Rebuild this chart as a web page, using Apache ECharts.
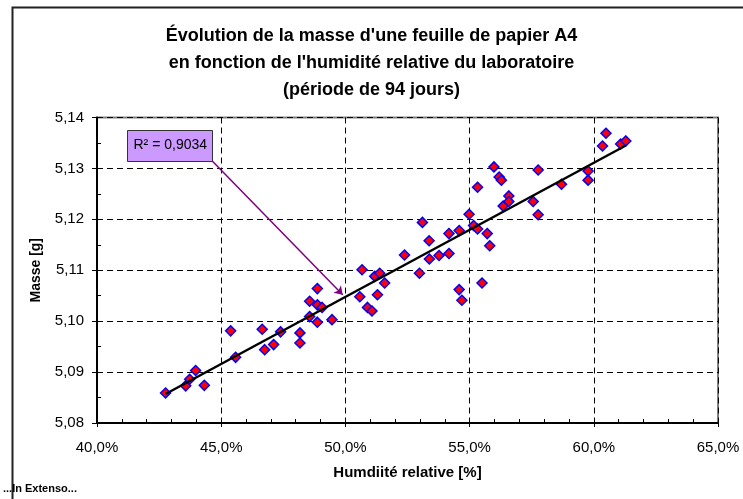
<!DOCTYPE html>
<html>
<head>
<meta charset="utf-8">
<script src="https://cdn.jsdelivr.net/npm/echarts@6/dist/echarts.min.js"></script>
<style>
  html, body { margin: 0; padding: 0; background: #fff; }
  #chart { width: 743px; height: 499px; }
</style>
</head>
<body>
<div id="chart"></div>
<script>
// humidité relative [%] et masse [g]
const humidite = [42.76, 43.57, 43.73, 43.97, 44.32, 45.38, 45.58, 46.65, 46.75, 47.11,
  47.39, 48.17, 48.17, 48.56, 48.56, 48.87, 48.87, 49.06, 48.87, 49.46,
  50.67, 50.58, 50.89, 51.07, 51.18, 51.38, 51.29, 51.58, 52.38, 52.98,
  53.38, 53.77, 54.17, 54.58, 54.69, 55.50, 53.10, 53.37, 54.17, 54.58,
  54.98, 55.16, 55.32, 55.32, 55.71, 55.81, 55.98, 56.19, 56.28, 56.35,
  56.58, 56.58, 57.56, 57.76, 57.76, 58.70, 59.77, 59.77, 60.35, 60.49,
  61.08, 61.29]
const masse = [5.0859, 5.0873, 5.0886, 5.0903, 5.0874, 5.0981, 5.0929, 5.0984, 5.0944, 5.0954,
  5.0979, 5.0977, 5.0957, 5.1039, 5.1009, 5.1064, 5.1032, 5.1027, 5.0998, 5.1003,
  5.1101, 5.1048, 5.1027, 5.1020, 5.1088, 5.1094, 5.1052, 5.1075, 5.1130, 5.1094,
  5.1122, 5.1129, 5.1133, 5.1062, 5.1041, 5.1075, 5.1194, 5.1158, 5.1172, 5.1178,
  5.1210, 5.1188, 5.1181, 5.1263, 5.1172, 5.1148, 5.1303, 5.1283, 5.1277, 5.1226,
  5.1246, 5.1235, 5.1235, 5.1297, 5.1209, 5.1269, 5.1295, 5.1277, 5.1344, 5.1369,
  5.1348, 5.1354]
// droite de régression (extrémités)
const tendance = [[42.76, 5.0857], [61.29, 5.1345]]
// flèche de l'étiquette R²
const fleche = [[44.63, 5.1315], [49.89, 5.1052]]
const r2Label = 'R² = 0,9034'

const font = 'Liberation Sans, Arial, sans-serif'
const points = humidite.map((h, i) => [h, masse[i]])

const chart = echarts.init(document.getElementById('chart'))

const dashed = { show: true, lineStyle: { color: '#000', width: 1, type: [6, 4] } }

const option = {
  backgroundColor: '#fff',
  animation: false,
  title: {
    text: "Évolution de la masse d'une feuille de papier A4\nen fonction de l'humidité relative du laboratoire\n(période de 94 jours)",
    left: 'center',
    top: 18,
    textStyle: { fontFamily: font, fontSize: 18, fontWeight: 'bold', color: '#000', lineHeight: 27 }
  },
  grid: {
    left: 97, right: 25, top: 117.5, bottom: 76,
    show: true, borderColor: '#808080', borderWidth: 2, backgroundColor: '#fff'
  },
  xAxis: [{
    type: 'value', min: 40, max: 65, interval: 5,
    name: 'Humdiité relative [%]', nameLocation: 'middle', nameGap: 42,
    nameTextStyle: { fontFamily: font, fontSize: 15, fontWeight: 'bold', color: '#000' },
    axisLine: { show: true, onZero: false, lineStyle: { color: '#000', width: 2 } },
    axisTick: { show: true, inside: false, length: 4, lineStyle: { color: '#000', width: 1 } },
    axisLabel: { fontFamily: font, fontSize: 15, color: '#000', margin: 17,
      formatter: v => v.toFixed(1).replace('.', ',') + '%' },
    splitLine: dashed
  }, {
    type: 'value', min: 40, max: 65, interval: 1, position: 'bottom',
    axisLine: { show: false }, axisLabel: { show: false }, splitLine: { show: false },
    axisTick: { show: true, inside: true, length: 4, lineStyle: { color: '#000', width: 1 } }
  }],
  yAxis: [{
    type: 'value', min: 5.08, max: 5.14, interval: 0.01,
    name: 'Masse [g]', nameLocation: 'middle', nameGap: 54,
    nameTextStyle: { fontFamily: font, fontSize: 14, fontWeight: 'bold', color: '#000' },
    axisLine: { show: true, onZero: false, lineStyle: { color: '#000', width: 2 } },
    axisTick: { show: true, inside: false, length: 5, lineStyle: { color: '#000', width: 1 } },
    axisLabel: { fontFamily: font, fontSize: 15, color: '#000', margin: 13,
      formatter: v => v.toFixed(2).replace('.', ',') },
    splitLine: dashed
  }, {
    type: 'value', min: 5.08, max: 5.14, interval: 0.005, position: 'left',
    axisLine: { show: false }, axisLabel: { show: false }, splitLine: { show: false },
    axisTick: { show: true, inside: true, length: 4, lineStyle: { color: '#000', width: 1 } }
  }],
  graphic: [{
    type: 'rect', left: 10, top: 5, z: -10, silent: true,
    shape: { width: 800, height: 600 },
    style: { fill: null, stroke: '#222', lineWidth: 2 }
  }, {
    type: 'group', left: 127, top: 130, z: 100,
    children: [{
      type: 'rect', shape: { width: 85, height: 31 },
      style: { fill: '#cc99ff', stroke: '#333', lineWidth: 1 }
    }, {
      type: 'text', left: 6, top: 8,
      style: { text: r2Label, font: '14px ' + font, fill: '#000' }
    }]
  }, {
    type: 'text', left: 3, top: 483,
    style: { text: '...In Extenso...', font: 'bold 11px ' + font, fill: '#000' }
  }],
  series: [{
    type: 'line',
    data: tendance,
    symbol: 'none',
    lineStyle: { color: '#000', width: 2.5 },
    z: 3,
    markLine: {
      silent: true,
      symbol: ['none', 'arrow'], symbolSize: 8,
      label: { show: false },
      lineStyle: { color: '#800080', width: 1.5, type: 'solid' },
      data: [[{ coord: fleche[0] }, { coord: fleche[1] }]]
    }
  }, {
    type: 'scatter',
    data: points,
    symbol: 'diamond',
    symbolSize: 10,
    itemStyle: { color: '#ff0000', borderColor: '#0000ff', borderWidth: 1.5, opacity: 1 },
    z: 2
  }]
}

chart.setOption(option)
window.addEventListener('resize', () => chart.resize())
</script>
</body>
</html>
